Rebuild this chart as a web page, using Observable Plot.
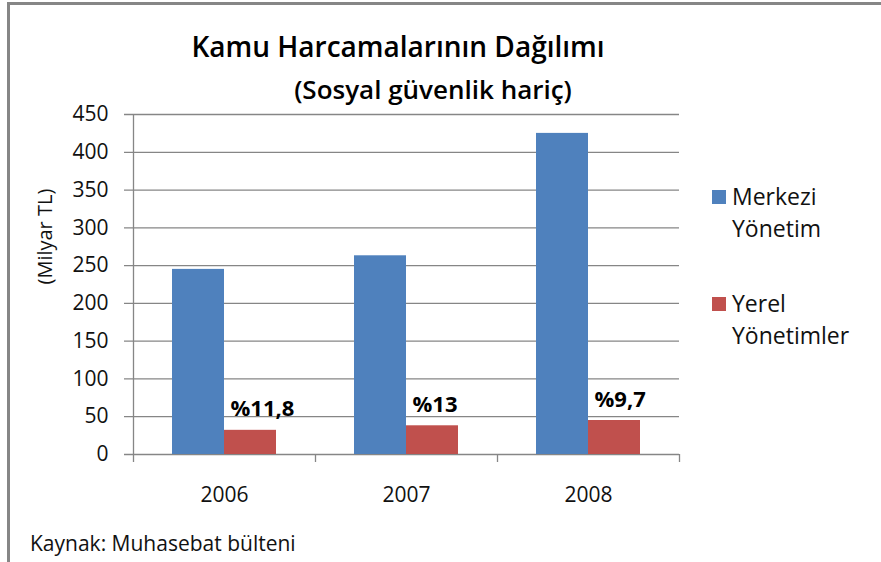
<!DOCTYPE html>
<html>
<head>
<meta charset="utf-8">
<script src="https://cdn.jsdelivr.net/npm/d3@7"></script>
<script src="https://cdn.jsdelivr.net/npm/@observablehq/plot@0.6"></script>
<style>
  html, body { margin: 0; padding: 0; background: #fff; }
  #wrap { position: relative; width: 881px; height: 562px; overflow: hidden; background: #fff; font-family: "Open Sans", sans-serif; color: #000; }
  .abs { position: absolute; white-space: nowrap; line-height: 1; }
  #borderTop { left: 7px; top: 2px; width: 874px; height: 3px; background: #868686; }
  #borderLeft { left: 7px; top: 2px; width: 3px; height: 560px; background: #868686; }
  #title { left: 0; width: 796px; top: 32px; text-align: center; font-size: 28px; font-weight: 600; }
  #subtitle { left: 0; width: 866px; top: 76px; text-align: center; font-size: 26px; font-weight: 600; }
  #chart { left: 0; top: 100px; }
  .sw { position: absolute; width: 14px; height: 14px; }
  .lg { position: absolute; font-size: 23px; line-height: 32px; color: #111; white-space: nowrap; }
  #caption { left: 30px; top: 533px; font-size: 21px; color: #111; }
</style>
</head>
<body>
<div id="wrap">
  <div id="borderTop" class="abs"></div>
  <div id="borderLeft" class="abs"></div>
  <div id="title" class="abs"></div>
  <div id="subtitle" class="abs"></div>
  <div id="chart" class="abs"></div>
  <div id="legend"></div>
  <div id="caption" class="abs"></div>
</div>
<script>
// ---- data ----
const titleText = "Kamu Harcamalarının Dağılımı";
const subtitleText = "(Sosyal güvenlik hariç)";
const captionText = "Kaynak: Muhasebat bülteni";
const yLabel = "(Milyar TL)";
const years = ["2006", "2007", "2008"];
const seriesNames = ["Merkezi Yönetim", "Yerel Yönetimler"];
const merkezi = [245, 263, 425];
const yerel = [32, 38, 45];
const shareLabels = ["%11,8", "%13", "%9,7"];
const yTicks = [0, 50, 100, 150, 200, 250, 300, 350, 400, 450];
const colors = ["#4F81BD", "#C0504D"];

// ---- layout / style ----
const W = 700, H = 420;
const mL = 133, mR = 21, mT = 14, mB = 66;
const band = (W - mL - mR) / years.length;
const barW = 52;
const outer = (band - 2 * barW) / 2;
const gridColor = "#868686";

const rows = years.map((y, i) => ({year: y, merkezi: merkezi[i], yerel: yerel[i], share: shareLabels[i]}));

document.getElementById("title").textContent = titleText;
document.getElementById("subtitle").textContent = subtitleText;
document.getElementById("caption").textContent = captionText;

const chart = Plot.plot({
  width: W,
  height: H,
  marginLeft: mL,
  marginRight: mR,
  marginTop: mT,
  marginBottom: mB,
  style: {fontFamily: "'Open Sans', sans-serif", fontSize: "21px", color: "#111", background: "transparent"},
  x: {type: "band", domain: years, padding: 0},
  y: {domain: [0, 450]},
  marks: [
    Plot.gridY(yTicks, {stroke: gridColor, strokeOpacity: 1, strokeWidth: 1.3, insetLeft: -9}),
    Plot.axisY(yTicks, {tickSize: 0, tickPadding: 25, fontSize: 21, label: null}),
    Plot.text([yLabel], {frameAnchor: "left", rotate: -90, dx: -88, fontSize: 20, fill: "#111"}),
    Plot.axisX({tickSize: 0, tickPadding: 33, fontSize: 21, label: null}),
    Plot.barY(rows, {x: "year", y: "merkezi", fill: colors[0], insetLeft: outer, insetRight: outer + barW}),
    Plot.barY(rows, {x: "year", y: "yerel", fill: colors[1], insetLeft: outer + barW, insetRight: outer}),
    Plot.ruleX([years[0]], {x: d => d, dx: -band / 2, insetBottom: -8, stroke: gridColor, strokeWidth: 1.3}),
    Plot.ruleX(years, {x: d => d, dx: band / 2, y1: 0, y2: 0, insetBottom: -8, stroke: gridColor, strokeWidth: 1.3}),
    Plot.text(rows, {x: "year", y: "yerel", text: "share", textAnchor: "start", dx: 6, dy: -14, lineAnchor: "bottom", fontSize: 22, fontWeight: "bold", fill: "#000"})
  ]
});
document.getElementById("chart").appendChild(chart);

// legend (HTML)
const legend = document.getElementById("legend");
const legendTops = [180, 287];
seriesNames.forEach((name, i) => {
  const sw = document.createElement("div");
  sw.className = "sw";
  sw.style.left = "712px";
  sw.style.top = (legendTops[i] + 10) + "px";
  sw.style.background = colors[i];
  legend.appendChild(sw);
  const t = document.createElement("div");
  t.className = "lg";
  t.style.left = "732px";
  t.style.top = legendTops[i] + "px";
  t.innerHTML = name.split(" ").join("<br>");
  legend.appendChild(t);
});
</script>
</body>
</html>
